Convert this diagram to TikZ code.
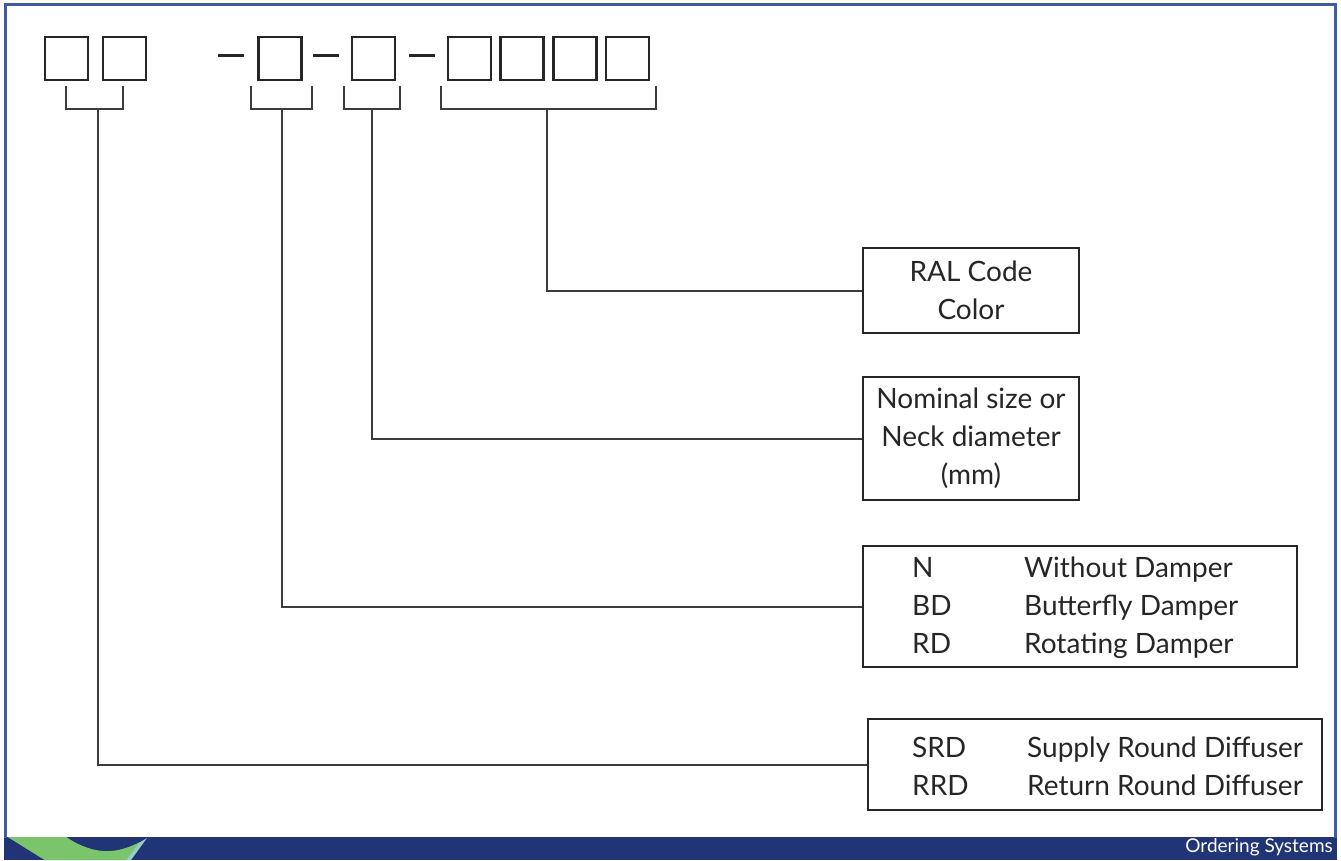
\documentclass[tikz,border=0pt]{standalone}
\usepackage{fontspec}
\setmainfont{Lato}
\definecolor{framebl}{RGB}{62,92,160}
\definecolor{bandbl}{RGB}{33,52,118}
\definecolor{swgreen}{RGB}{122,196,108}
\definecolor{swcyan}{RGB}{150,205,205}
\definecolor{ink}{RGB}{38,38,38}
\tikzset{
  cell/.style={draw=ink, line width=2.2pt, minimum width=43pt, minimum height=43pt, inner sep=0},
  legend/.style={draw=ink, line width=2.2pt, inner sep=0, align=center, text=ink, font=\fontsize{28}{38}\selectfont},
  conn/.style={draw=ink!90, line width=2pt},
  txt/.style={anchor=base west, inner sep=0, text=ink, font=\fontsize{28}{38}\selectfont}
}

\begin{document}
\begin{tikzpicture}[x=1pt, y=-1pt]
    \useasboundingbox (0,0) rectangle (1341,860);
    \fill[white] (0,0) rectangle (1341,860);
    \fill[bandbl] (4,837) rectangle (1337,860);
    \fill[swcyan] (8,837) -- (66,837) .. controls (100,862) and (125,852) .. (147,838) -- (131,860) -- (45,860) -- cycle;
    \fill[swgreen] (8,837) -- (66,837) .. controls (98,858) and (120,852) .. (140,842) -- (126,860) -- (45,860) -- cycle;
    \draw[framebl, line width=3pt] (5,838) |- (1335,4) -- (1335,838);
    \node[white, anchor=east, inner sep=0, font=\fontsize{19}{19}\selectfont] (foot) at (1333,847) {Ordering Systems};

    \foreach \n/\x in {c1/66.5, c2/124.5, c3/280, c4/373.5, c5/469.5, c6/522, c7/575, c8/627.5}
        \node[cell] (\n) at (\x,58.5) {};
    \foreach \a/\b in {218/244, 313/339, 409/435}
        \draw[ink, line width=3pt] (\a,55) -- (\b,55);
    \foreach \a/\b in {66/123, 251/312, 344/400, 441/656}
        \draw[conn] (\a,86) |- (\b,109) -- (\b,86);
    \coordinate (s1) at (98,109);
    \coordinate (s2) at (282,109);
    \coordinate (s3) at (372,109);
    \coordinate (s4) at (547,109);

    \node[legend, minimum width=216, minimum height=85] (ral) at (971,290.5) {RAL Code\\Color};
    \node[legend, minimum width=216, minimum height=123] (nom) at (971,438.5) {Nominal size or\\Neck diameter\\(mm)};
    \node[legend, minimum width=434, minimum height=121] (damp) at (1080,606.5) {};
    \node[legend, minimum width=454, minimum height=91] (diff) at (1095,764.5) {};

    \foreach \k/\d/\y in {N/Without Damper/577, BD/Butterfly Damper/615, RD/Rotating Damper/653} {
        \node[txt] (damp-\k) at (912,\y) {\k};
        \node[txt] (damp-\k-d) at (1024,\y) {\d};
    }
    \foreach \k/\d/\y in {SRD/Supply Round Diffuser/757, RRD/Return Round Diffuser/795} {
        \node[txt] (diff-\k) at (912,\y) {\k};
        \node[txt] (diff-\k-d) at (1027,\y) {\d};
    }

    \draw[conn] (s4) |- (ral.west);
    \draw[conn] (s3) |- (nom.west);
    \draw[conn] (s2) |- (damp.west);
    \draw[conn] (s1) |- (diff.west);
\end{tikzpicture}
\end{document}
